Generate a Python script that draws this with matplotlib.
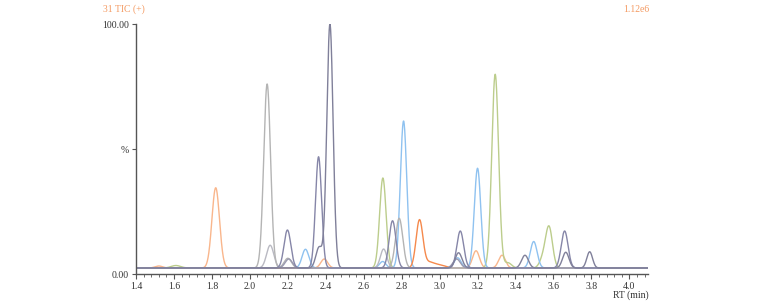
import numpy as np
import matplotlib
matplotlib.use('Agg')
import matplotlib.pyplot as plt
from matplotlib.ticker import MultipleLocator

# Chromatogram traces: each peak is (retention time, apex %, width sigma)
base_level = 2.4

light_orange_peaks = [(1.52, 3.2, 0.02), (1.820, 34.5, 0.02), (2.392, 6.0, 0.018),
                      (3.192, 9.3, 0.018), (3.329, 7.5, 0.018)]
gray_peaks = [(2.091, 76.0, 0.018), (2.787, 22.3, 0.019), (2.20, 6.3, 0.019)]
gray2_peaks = [(2.107, 11.5, 0.019), (2.705, 10.0, 0.017)]
slate_peaks = [(2.198, 17.6, 0.018), (2.362, 46.9, 0.016), (2.752, 21.3, 0.018),
               (3.109, 17.2, 0.018), (3.659, 17.2, 0.018)]
slate2_peaks = [(2.422, 100.0, 0.0165), (2.365, 10.7, 0.017), (3.10, 8.5, 0.018),
                (3.45, 7.5, 0.018), (3.665, 8.7, 0.017), (3.791, 8.9, 0.015)]
slate3_peaks = [(2.205, 6.0, 0.019), (3.09, 6.0, 0.019)]
blue_peaks = [(2.293, 9.9, 0.018), (2.70, 5.0, 0.017), (2.810, 61.2, 0.017),
              (3.095, 6.5, 0.018), (3.200, 42.3, 0.017), (3.496, 13.0, 0.018)]
green_peaks = [(1.61, 3.4, 0.025), (2.701, 38.4, 0.017), (3.293, 79.9, 0.018),
               (3.36, 4.5, 0.019), (3.545, 6.0, 0.018), (3.577, 18.5, 0.018)]
orange_peaks = [(2.894, 21.5, 0.018), (2.945, 4.5, 0.025), (3.0, 3.6, 0.03)]

traces = [
    (light_orange_peaks, '#f9b68c'),
    (green_peaks, '#bccd8c'),
    (blue_peaks, '#8fc2f0'),
    (orange_peaks, '#f5894c'),
    (gray2_peaks, '#b9b9c2'),
    (gray_peaks, '#b4b4b4'),
    (slate3_peaks, '#9a9ab0'),
    (slate_peaks, '#8686a8'),
    (slate2_peaks, '#80809a'),
]

rt = np.linspace(1.4, 4.1, 3000)

fig = plt.figure(figsize=(7.57, 3.02), dpi=100)
ax = fig.add_axes([0.1797, 0.0927, 0.6767, 0.8278])

for peaks, color in traces:
    y = np.full_like(rt, base_level)
    for c, h, s in peaks:
        y += (h - base_level) * np.exp(-0.5 * ((rt - c) / s) ** 2)
    ax.plot(rt, y, color=color, lw=1.0)

ax.set_xlim(1.4, 4.1)
ax.set_ylim(0, 100)
for side in ['top', 'right']:
    ax.spines[side].set_visible(False)
for side in ['left', 'bottom']:
    ax.spines[side].set_color('#555555')
    ax.spines[side].set_linewidth(1.0)

font = 'Liberation Serif'
ax.xaxis.set_minor_locator(MultipleLocator(0.04))
ax.set_xticks(np.arange(1.4, 4.01, 0.2))
ax.set_xticklabels([f'{v:.1f}' for v in np.arange(1.4, 4.01, 0.2)],
                   fontfamily=font, fontsize=7, color='#333333')
ax.tick_params(axis='x', which='major', length=3.5, width=0.8, color='#555555', pad=2)
ax.tick_params(axis='x', which='minor', length=2, width=0.6, color='#555555')
ax.set_yticks([0, 50, 100])
ax.set_yticklabels(['0.00', '%', '100.00'], fontfamily=font, fontsize=7, color='#333333')
ax.tick_params(axis='y', length=3, width=0.8, color='#555555', pad=2)

fig.text(0.136, 0.968, '31 TIC (+)', fontfamily=font, fontsize=7, color='#f49a62',
         ha='left', va='center')
fig.text(0.858, 0.968, '1.12e6', fontfamily=font, fontsize=7, color='#f49a62',
         ha='right', va='center')
fig.text(0.857, 0.022, 'RT (min)', fontfamily=font, fontsize=7, color='#333333',
         ha='right', va='center')

fig.savefig('out.png', dpi=100)
